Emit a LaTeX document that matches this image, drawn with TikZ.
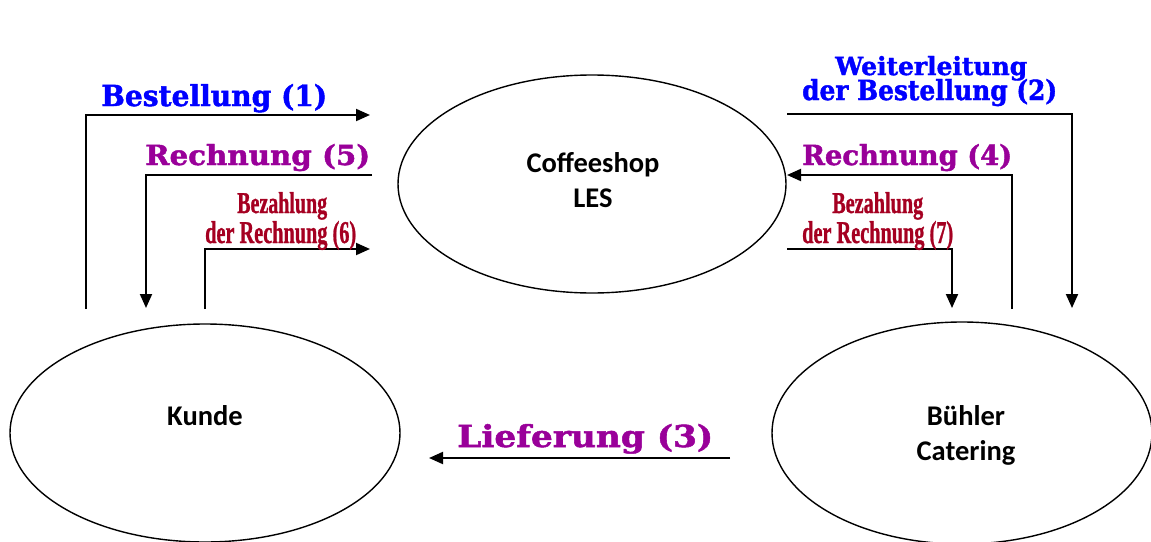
\documentclass[tikz,border=0pt]{standalone}
\usepackage{fontspec}
\usepackage{graphicx}
\usetikzlibrary{shapes.geometric,arrows.meta}
\newfontfamily\lblfont{DejaVu Serif}[BoldFont={DejaVu Serif Bold}, BoldFeatures={FakeBold=1.6}]
\newfontfamily\narrowfont{Liberation Serif}[BoldFont={Liberation Serif Bold}, BoldFeatures={FakeBold=1.2}]
\newfontfamily\bodyfont{Carlito}
\definecolor{lblblue}{RGB}{0,0,255}
\definecolor{lblpurple}{RGB}{153,0,153}
\definecolor{lblred}{RGB}{165,0,33}
\newcommand{\fitlbl}[3]{\resizebox{#1pt}{#2pt}{#3}}
\tikzset{
  party/.style={ellipse, draw=black, line width=1.4pt, inner sep=0pt},
  ptext/.style={font=\bodyfont\bfseries\fontsize{28.5}{34}\selectfont, anchor=base, inner sep=0pt},
  flow/.style={draw=black, line width=2pt, -{Triangle[length=14pt,width=12pt]}},
  biglbl/.style={anchor=base west, inner sep=0pt, font=\lblfont\bfseries\fontsize{20}{24}\selectfont},
  smalllbl/.style={anchor=base west, inner sep=0pt, text=lblred, font=\narrowfont\bfseries\fontsize{20}{24}\selectfont}
}
\begin{document}
\begin{tikzpicture}[x=1pt,y=-1pt]
\useasboundingbox (0,0) rectangle (1151,541);
\clip (0,0) rectangle (1151,541);
% parties
\node[party, minimum width=388pt, minimum height=218pt] (coffee) at (592,184) {};
\node[party, minimum width=390pt, minimum height=218pt] (kunde) at (205,433) {};
\node[party, minimum width=380pt, minimum height=222pt] (buehler) at (962,433) {};
\node[ptext] (coffeeT1) at (593,172) {Coffeeshop};
\node[ptext] (coffeeT2) at (593,207) {LES};
\node[ptext] (kundeT) at (205,425) {Kunde};
\node[ptext] (buehlerT1) at (966,425) {Bühler};
\node[ptext] (buehlerT2) at (966,460) {Catering};
% coordinates of connector ends
\coordinate (a1s) at (86,309);   \coordinate (a1e) at (370,115);
\coordinate (a5s) at (372,175);  \coordinate (a5e) at (146,308);
\coordinate (a6s) at (205,309);  \coordinate (a6e) at (370,249);
\coordinate (a2s) at (787,114);  \coordinate (a2e) at (1072,308);
\coordinate (a4s) at (1012,309); \coordinate (a4e) at (787,175);
\coordinate (a7s) at (787,249);  \coordinate (a7e) at (952,308);
\coordinate (a3s) at (730,458);  \coordinate (a3e) at (429,458);
% connectors
\draw[flow] (a1s) |- (a1e);
\draw[flow] (a5s) -| (a5e);
\draw[flow] (a6s) |- (a6e);
\draw[flow] (a2s) -| (a2e);
\draw[flow] (a4s) |- (a4e);
\draw[flow] (a7s) -| (a7e);
\draw[flow] (a3s) -- (a3e);
% labels
\node[biglbl, text=lblblue] (l1) at (101,106) {\fitlbl{226}{22}{Bestellung (1)}};
\node[biglbl, text=lblpurple] (l5) at (145,165) {\fitlbl{225}{21}{Rechnung (5)}};
\node[smalllbl] (l6a) at (237,213) {\fitlbl{90}{21}{Bezahlung}};
\node[smalllbl] (l6b) at (205,243) {\fitlbl{151}{22}{der Rechnung (6)}};
\node[biglbl, text=lblblue] (l2a) at (835,75) {\fitlbl{192}{19}{Weiterleitung}};
\node[biglbl, text=lblblue] (l2b) at (802,100) {\fitlbl{255}{21}{der Bestellung (2)}};
\node[biglbl, text=lblpurple] (l4) at (802,165) {\fitlbl{210}{21}{Rechnung (4)}};
\node[smalllbl] (l7a) at (832,213) {\fitlbl{91}{21}{Bezahlung}};
\node[smalllbl] (l7b) at (802,243) {\fitlbl{151}{22}{der Rechnung (7)}};
\node[biglbl, text=lblpurple] (l3) at (457,447) {\fitlbl{256}{23}{Lieferung (3)}};
\end{tikzpicture}
\end{document}
